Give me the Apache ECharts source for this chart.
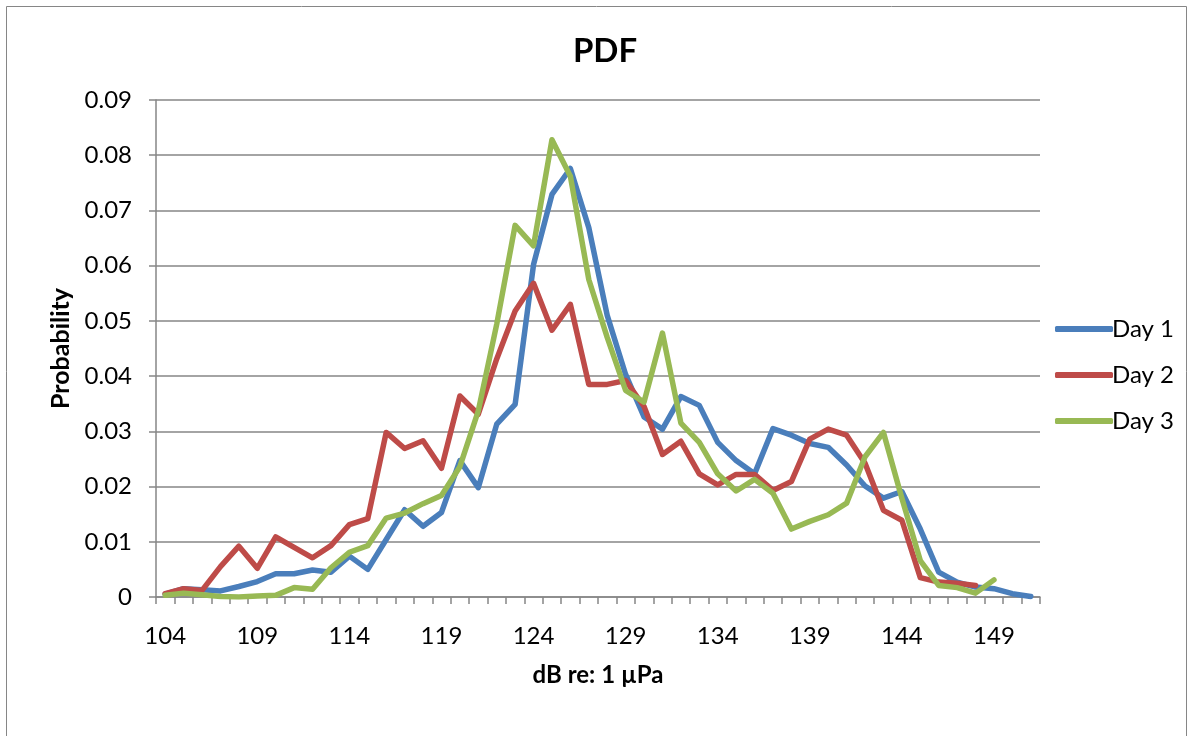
<!DOCTYPE html>
<html>
<head>
<meta charset="utf-8">
<script src="https://cdn.jsdelivr.net/npm/echarts@6/dist/echarts.min.js"></script>
<style>
html,body{margin:0;padding:0;background:#fff;}
#chart{width:1192px;height:736px;}
</style>
</head>
<body>
<div id="chart"></div>
<script>
const categories = ['104','105','106','107','108','109','110','111','112','113','114','115','116','117','118','119','120','121','122','123','124','125','126','127','128','129','130','131','132','133','134','135','136','137','138','139','140','141','142','143','144','145','146','147','148','149','150','151'];

const day1 = [0.0005,0.0015,0.0013,0.0011,0.0019,0.0028,0.0042,0.0042,0.0049,0.0045,
  0.0074,0.0050,0.0104,0.0158,0.0128,0.0153,0.0247,0.0198,0.0313,0.0349,
  0.0602,0.0729,0.0776,0.0669,0.0510,0.0403,0.0326,0.0304,0.0363,0.0347,
  0.0280,0.0247,0.0223,0.0305,0.0293,0.0278,0.0271,0.0239,0.0201,0.0179,
  0.0191,0.0123,0.0045,0.0027,0.0018,0.0015,0.0006,0.0001];

const day2 = [0.0006,0.0015,0.0012,0.0055,0.0092,0.0052,0.0109,0.0090,0.0071,0.0093,
  0.0131,0.0142,0.0298,0.0269,0.0283,0.0233,0.0364,0.0331,0.0431,0.0518,
  0.0568,0.0483,0.0530,0.0385,0.0385,0.0392,0.0345,0.0258,0.0282,0.0223,
  0.0203,0.0222,0.0222,0.0193,0.0209,0.0286,0.0304,0.0293,0.0242,0.0157,
  0.0139,0.0035,0.0027,0.0025,0.0021];

const day3 = [0.0003,0.0007,0.0004,0.0001,0.0000,0.0002,0.0003,0.0017,0.0014,0.0053,
  0.0081,0.0093,0.0143,0.0152,0.0169,0.0184,0.0236,0.0337,0.0494,0.0673,
  0.0636,0.0828,0.0762,0.0575,0.0470,0.0374,0.0353,0.0478,0.0315,0.0280,
  0.0223,0.0192,0.0213,0.0188,0.0123,0.0137,0.0149,0.0170,0.0254,0.0298,
  0.0179,0.0066,0.0021,0.0017,0.0007,0.0031];

const seriesNames = ['Day 1','Day 2','Day 3'];
const colors = ['#4A7EBB','#BE4B48','#98B954'];
const yTicks = [0,0.01,0.02,0.03,0.04,0.05,0.06,0.07,0.08,0.09];

const FONT = 'Lato, "Open Sans", sans-serif';
const chart = echarts.init(document.getElementById('chart'), null, {renderer:'canvas'});
const gridColor = '#868686';

chart.setOption({
  animation: false,
  backgroundColor: '#ffffff',
  color: colors,
  graphic: [{
    type: 'rect', silent: true,
    shape: {x: 6.5, y: 6.5, width: 1180, height: 740},
    style: {fill: 'none', stroke: '#868686', lineWidth: 1}
  }],
  title: {
    text: 'PDF',
    left: 600, top: 30, textAlign: 'center',
    textStyle: {fontFamily: FONT, fontSize: 33, fontWeight: 'bold', color: '#000'}
  },
  legend: {
    orient: 'vertical',
    left: 1050, top: 312,
    itemWidth: 58, itemHeight: 6, itemGap: 22,
    icon: 'roundRect',
    data: seriesNames,
    textStyle: {fontFamily: FONT, fontSize: 24, color: '#000', padding: [0,0,0,-6]}
  },
  grid: {left: 156, right: 152, top: 100, bottom: 139, containLabel: false},
  xAxis: {
    type: 'category',
    data: categories,
    boundaryGap: true,
    name: 'dB re: 1 µPa',
    nameLocation: 'middle',
    nameGap: 66,
    nameTextStyle: {fontFamily: FONT, fontSize: 24, fontWeight: 'bold', color: '#000'},
    axisLine: {lineStyle: {color: gridColor, width: 1.5}},
    axisTick: {show: true, interval: 0, length: 7, lineStyle: {color: gridColor, width: 1.5}},
    axisLabel: {interval: 4, margin: 27, fontFamily: FONT, fontSize: 24, color: '#000'},
    splitLine: {show: false}
  },
  yAxis: {
    type: 'value',
    min: 0, max: 0.09, interval: 0.01,
    name: 'Probability',
    nameLocation: 'middle',
    nameRotate: 90,
    nameGap: 82,
    nameTextStyle: {fontFamily: FONT, fontSize: 25, fontWeight: 'bold', color: '#000'},
    axisLine: {show: true, lineStyle: {color: gridColor, width: 1.5}},
    axisTick: {show: true, length: 7, lineStyle: {color: gridColor, width: 1.5}},
    axisLabel: {
      margin: 24, fontFamily: FONT, fontSize: 24, color: '#000',
      formatter: v => {
        const t = yTicks.find(x => Math.abs(x - v) < 1e-9);
        const val = t === undefined ? v : t;
        return val === 0 ? '0' : val.toFixed(2);
      }
    },
    splitLine: {show: true, lineStyle: {color: gridColor, width: 1.5}}
  },
  series: [day1, day2, day3].map((d, i) => ({
    name: seriesNames[i],
    type: 'line',
    data: d,
    symbol: 'none',
    smooth: false,
    lineStyle: {width: 5.5, color: colors[i], cap: 'round', join: 'round'},
    itemStyle: {color: colors[i]}
  }))
});
</script>
</body>
</html>
